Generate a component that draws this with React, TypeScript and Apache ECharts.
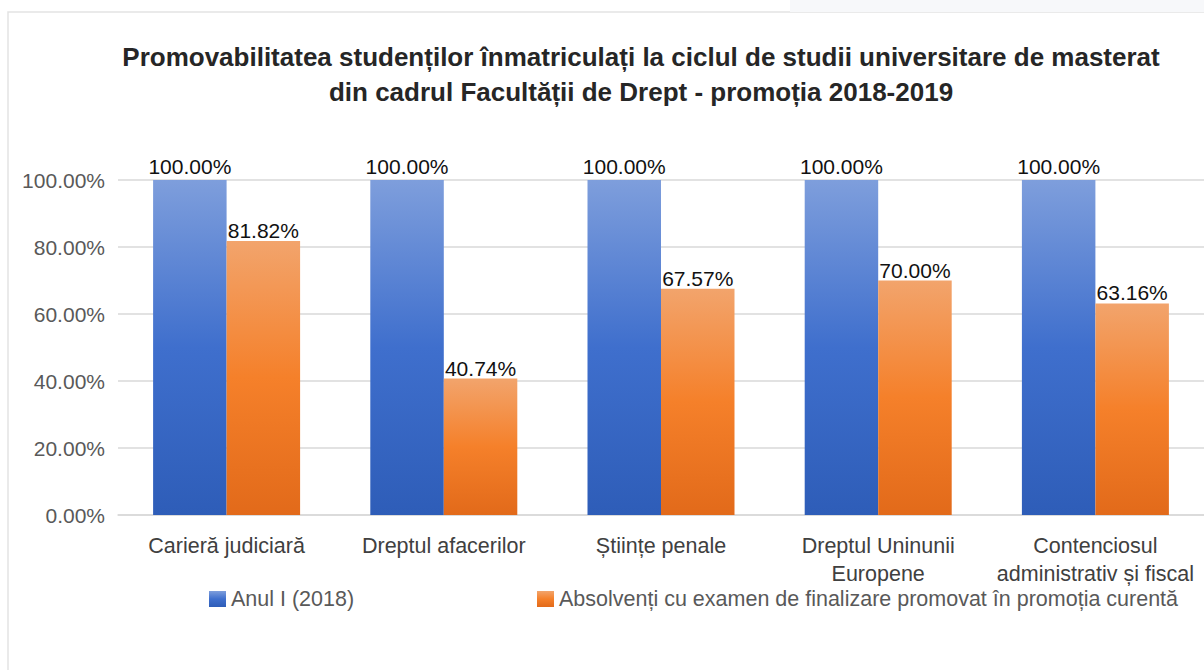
import React, { useEffect, useRef } from "react";
import * as echarts from "echarts";

const categories = [
  "Carieră judiciară",
  "Dreptul afacerilor",
  "Științe penale",
  "Dreptul Uninunii\nEuropene",
  "Contenciosul\nadministrativ și fiscal",
];
const seriesNames = [
  "Anul I (2018)",
  "Absolvenți cu examen de finalizare promovat în promoția curentă",
];
const anulI = [100, 100, 100, 100, 100];
const absolventi = [81.82, 40.74, 67.57, 70.0, 63.16];
const yTicks = { min: 0, max: 100, interval: 20 };
const titleLines = [
  "Promovabilitatea studenților înmatriculați la ciclul de studii universitare de masterat",
  "din cadrul Facultății de Drept - promoția 2018-2019",
];

const FONT = "'Liberation Sans', Arial, sans-serif";

export default function App() {
  const ref = useRef<HTMLDivElement>(null);
  useEffect(() => {
    document.body.style.margin = "0";
    document.body.style.overflow = "hidden";
    const chart = echarts.init(ref.current!, null, { renderer: "svg" });
    const blue = new echarts.graphic.LinearGradient(0, 0, 0, 1, [
      { offset: 0, color: "#7e9edc" },
      { offset: 0.5, color: "#3f6fcd" },
      { offset: 1, color: "#2e5db8" },
    ]);
    const orange = new echarts.graphic.LinearGradient(0, 0, 0, 1, [
      { offset: 0, color: "#f2a46c" },
      { offset: 0.5, color: "#f5802a" },
      { offset: 1, color: "#e26a1a" },
    ]);
    const pct = (v: number) => v.toFixed(2) + "%";
    const legendText = { color: "#595959", fontSize: 21.5, fontFamily: FONT };
    chart.setOption({
      animation: false,
      backgroundColor: "#ffffff",
      textStyle: { fontFamily: FONT },
      graphic: [
        {
          type: "rect",
          shape: { x: 790, y: 0, width: 420, height: 12 },
          style: { fill: "#f7f8fa" },
          silent: true,
        },
        {
          type: "rect",
          shape: { x: 8, y: 12, width: 1300, height: 800 },
          style: { fill: "#ffffff", stroke: "#e3e3e3", lineWidth: 1.5 },
          silent: true,
          z: -10,
        },
        {
          type: "text",
          x: 641,
          y: 39,
          style: {
            text: titleLines.join("\n"),
            textAlign: "center",
            textVerticalAlign: "top",
            fill: "#262626",
            font: "bold 26px " + FONT,
            lineHeight: 35,
          },
        },
      ],
      grid: { left: 118, top: 180, width: 1096, height: 335, containLabel: false },
      legend: [
        {
          data: [seriesNames[0]],
          left: 204,
          top: 583,
          icon: "rect",
          itemWidth: 17,
          itemHeight: 16,
          itemGap: 0,
          textStyle: legendText,
        },
        {
          data: [seriesNames[1]],
          left: 532,
          top: 583,
          icon: "rect",
          itemWidth: 17,
          itemHeight: 16,
          itemGap: 0,
          textStyle: legendText,
        },
      ],
      xAxis: {
        type: "category",
        data: categories,
        axisTick: { show: false },
        axisLine: { lineStyle: { color: "#d9d9d9", width: 1.5 } },
        axisLabel: {
          color: "#404040",
          fontSize: 21.5,
          margin: 17,
          lineHeight: 28,
          interval: 0,
          fontFamily: FONT,
        },
      },
      yAxis: {
        type: "value",
        min: yTicks.min,
        max: yTicks.max,
        interval: yTicks.interval,
        axisLine: { show: false },
        axisTick: { show: false },
        splitLine: { lineStyle: { color: "#d9d9d9", width: 1.5 } },
        axisLabel: {
          color: "#595959",
          fontSize: 21,
          margin: 13,
          formatter: (v: number) => pct(v),
          fontFamily: FONT,
        },
      },
      series: [
        {
          name: seriesNames[0],
          type: "bar",
          data: anulI,
          barWidth: 73.5,
          barGap: "0%",
          itemStyle: { color: blue },
          label: {
            show: true,
            position: "top",
            distance: 3,
            color: "#111111",
            fontSize: 21,
            fontFamily: FONT,
            formatter: (p: any) => pct(p.value),
          },
        },
        {
          name: seriesNames[1],
          type: "bar",
          data: absolventi,
          barWidth: 73.5,
          barGap: "0%",
          itemStyle: { color: orange },
          label: {
            show: true,
            position: "top",
            distance: 0,
            color: "#111111",
            fontSize: 21,
            fontFamily: FONT,
            formatter: (p: any) => pct(p.value),
          },
        },
      ],
    });
    return () => chart.dispose();
  }, []);
  return <div ref={ref} style={{ width: 1204, height: 670, overflow: "hidden" }} />;
}
